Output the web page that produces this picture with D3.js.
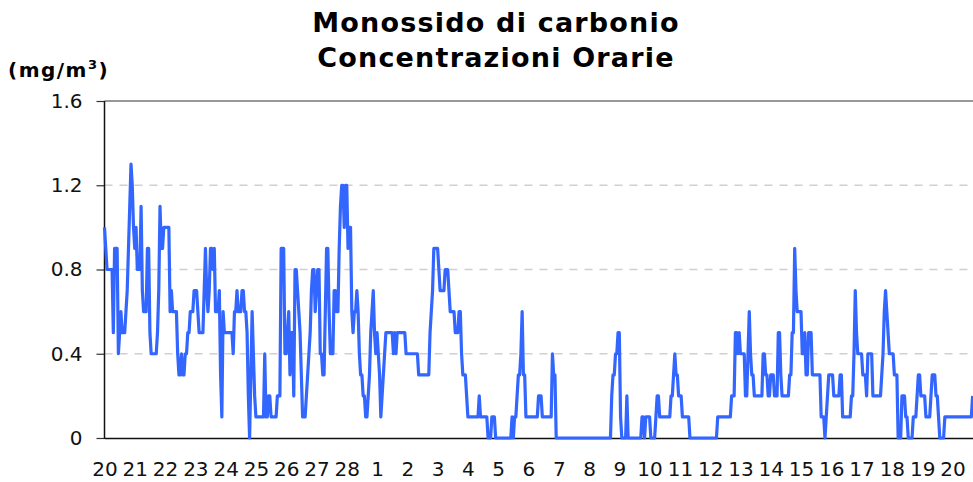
<!DOCTYPE html>
<html>
<head>
  <meta charset="utf-8">
  <title>Monossido di carbonio - Concentrazioni Orarie</title>
  <script src="https://cdn.jsdelivr.net/npm/d3@7"></script>
  <style>
    body { margin: 0; background: #fff; overflow: hidden; }
    text { font-family: "DejaVu Sans", Verdana, sans-serif; }
  </style>
</head>
<body>
<script>
  // Giorni (etichette asse x), uno ogni 24 ore
  const dayLabels = ["20", "21", "22", "23", "24", "25", "26", "27", "28",
    "1", "2", "3", "4", "5", "6", "7", "8", "9", "10", "11", "12", "13",
    "14", "15", "16", "17", "18", "19", "20"];

  const yTicks = [0, 0.4, 0.8, 1.2, 1.6];

  // Concentrazioni orarie CO (mg/m3), una riga per giorno
  const coValues = [
    1.0,0.9,0.8,0.8,0.8,0.8,0.8,0.5,0.9,0.9,0.9,0.4,0.5,0.6,0.5,0.5,0.5,0.6,0.7,0.9,1.1,1.3,1.2,1.0, // 20
    0.9,1.0,0.8,0.8,0.8,1.1,0.7,0.6,0.6,0.6,0.9,0.9,0.5,0.4,0.4,0.4,0.4,0.4,0.5,0.7,1.1,0.9,0.9,1.0, // 21
    1.0,1.0,1.0,1.0,0.6,0.7,0.6,0.6,0.6,0.6,0.4,0.3,0.3,0.4,0.3,0.3,0.4,0.4,0.5,0.5,0.6,0.6,0.6,0.7, // 22
    0.7,0.7,0.6,0.5,0.5,0.5,0.5,0.7,0.9,0.7,0.6,0.7,0.9,0.9,0.8,0.9,0.6,0.6,0.6,0.7,0.3,0.1,0.6,0.5, // 23
    0.5,0.5,0.5,0.5,0.5,0.5,0.4,0.6,0.6,0.7,0.6,0.6,0.6,0.7,0.7,0.6,0.6,0.5,0.2,0.0,0.3,0.6,0.4,0.2, // 24
    0.1,0.1,0.1,0.1,0.1,0.1,0.1,0.4,0.1,0.1,0.2,0.2,0.1,0.1,0.1,0.1,0.1,0.2,0.2,0.2,0.9,0.9,0.9,0.4, // 25
    0.4,0.5,0.6,0.3,0.5,0.5,0.2,0.8,0.8,0.7,0.6,0.5,0.3,0.1,0.1,0.1,0.2,0.3,0.4,0.5,0.7,0.8,0.8,0.6, // 26
    0.7,0.8,0.8,0.4,0.4,0.3,0.3,0.6,0.9,0.9,0.6,0.4,0.4,0.4,0.7,0.7,0.6,0.6,0.9,1.1,1.2,1.2,1.0,1.2, // 27
    1.2,0.9,1.0,1.0,0.6,0.5,0.6,0.6,0.7,0.6,0.4,0.3,0.3,0.2,0.2,0.1,0.1,0.2,0.3,0.5,0.6,0.7,0.5,0.4, // 28
    0.5,0.4,0.3,0.1,0.2,0.3,0.4,0.5,0.5,0.5,0.5,0.5,0.5,0.4,0.5,0.4,0.5,0.5,0.5,0.5,0.5,0.5,0.5,0.4, // 1
    0.4,0.4,0.4,0.4,0.4,0.4,0.4,0.4,0.4,0.3,0.3,0.3,0.3,0.3,0.3,0.3,0.3,0.3,0.5,0.6,0.7,0.9,0.9,0.9, // 2
    0.9,0.8,0.7,0.7,0.7,0.7,0.8,0.8,0.8,0.7,0.6,0.6,0.6,0.6,0.5,0.5,0.5,0.6,0.6,0.4,0.3,0.3,0.3,0.2, // 3
    0.1,0.1,0.1,0.1,0.1,0.1,0.1,0.1,0.1,0.2,0.1,0.1,0.1,0.1,0.1,0.1,0.0,0.0,0.0,0.1,0.1,0.1,0.0,0.0, // 4
    0.0,0.0,0.0,0.0,0.0,0.0,0.0,0.0,0.0,0.0,0.0,0.1,0.0,0.1,0.1,0.2,0.3,0.3,0.4,0.6,0.3,0.3,0.1,0.1, // 5
    0.1,0.1,0.1,0.1,0.1,0.1,0.1,0.1,0.2,0.2,0.2,0.1,0.1,0.1,0.1,0.1,0.1,0.1,0.1,0.4,0.3,0.3,0.0,0.0, // 6
    0.0,0.0,0.0,0.0,0.0,0.0,0.0,0.0,0.0,0.0,0.0,0.0,0.0,0.0,0.0,0.0,0.0,0.0,0.0,0.0,0.0,0.0,0.0,0.0, // 7
    0.0,0.0,0.0,0.0,0.0,0.0,0.0,0.0,0.0,0.0,0.0,0.0,0.0,0.0,0.0,0.0,0.0,0.0,0.2,0.3,0.3,0.4,0.4,0.5, // 8
    0.5,0.1,0.0,0.0,0.0,0.0,0.2,0.0,0.0,0.0,0.0,0.0,0.0,0.0,0.0,0.0,0.0,0.0,0.1,0.1,0.0,0.1,0.1,0.1, // 9
    0.1,0.0,0.0,0.0,0.0,0.1,0.2,0.2,0.1,0.1,0.1,0.1,0.1,0.1,0.1,0.1,0.1,0.2,0.2,0.3,0.4,0.3,0.3,0.2, // 10
    0.2,0.2,0.1,0.1,0.1,0.1,0.1,0.1,0.0,0.0,0.0,0.0,0.0,0.0,0.0,0.0,0.0,0.0,0.0,0.0,0.0,0.0,0.0,0.0, // 11
    0.0,0.0,0.0,0.0,0.0,0.0,0.1,0.1,0.1,0.1,0.1,0.1,0.1,0.1,0.1,0.1,0.1,0.2,0.2,0.2,0.5,0.5,0.4,0.5, // 12
    0.4,0.4,0.4,0.4,0.2,0.2,0.4,0.6,0.4,0.3,0.3,0.2,0.2,0.2,0.2,0.2,0.2,0.2,0.4,0.4,0.3,0.3,0.2,0.2, // 13
    0.3,0.3,0.3,0.2,0.2,0.2,0.5,0.5,0.3,0.2,0.2,0.2,0.2,0.2,0.2,0.3,0.3,0.5,0.5,0.9,0.7,0.6,0.6,0.6, // 14
    0.6,0.4,0.4,0.5,0.3,0.3,0.5,0.5,0.5,0.3,0.3,0.3,0.3,0.3,0.3,0.3,0.1,0.1,0.1,0.0,0.1,0.2,0.3,0.3, // 15
    0.3,0.3,0.2,0.2,0.2,0.2,0.2,0.3,0.3,0.1,0.1,0.1,0.1,0.1,0.1,0.1,0.2,0.2,0.4,0.7,0.5,0.4,0.4,0.4, // 16
    0.4,0.3,0.3,0.3,0.2,0.4,0.4,0.4,0.4,0.2,0.2,0.2,0.2,0.2,0.2,0.2,0.3,0.4,0.6,0.7,0.6,0.5,0.4,0.4, // 17
    0.4,0.4,0.3,0.3,0.3,0.0,0.0,0.0,0.2,0.2,0.2,0.1,0.1,0.0,0.0,0.0,0.0,0.1,0.1,0.1,0.2,0.3,0.3,0.2, // 18
    0.2,0.2,0.2,0.1,0.1,0.1,0.1,0.2,0.3,0.3,0.3,0.2,0.2,0.1,0.0,0.0,0.0,0.0,0.1,0.1,0.1,0.1,0.1,0.1, // 19
    0.1,0.1,0.1,0.1,0.1,0.1,0.1,0.1,0.1,0.1,0.1,0.1,0.1,0.1,0.1,0.1,0.2                              // 20
  ];

  const width = 973, height = 482;
  const margin = { top: 101, left: 104.5, bottom: 44 };
  const plotRight = 982.7; // il grafico continua oltre il bordo della finestra

  const svg = d3.select("body").append("svg")
    .attr("width", width)
    .attr("height", height);

  // Scale: una unità = un'ora
  const x = d3.scaleLinear()
    .domain([0, dayLabels.length * 24])
    .range([margin.left, plotRight]);

  const y = d3.scaleLinear()
    .domain([0, 1.6])
    .range([height - margin.bottom, margin.top]);

  // Griglia orizzontale tratteggiata
  svg.append("g")
    .selectAll("line")
    .data(yTicks.filter(d => d > 0 && d < 1.6))
    .enter()
    .append("line")
    .attr("x1", margin.left)
    .attr("x2", plotRight)
    .attr("y1", d => y(d))
    .attr("y2", d => y(d))
    .attr("stroke", "#d0d0d0")
    .attr("stroke-width", 1.5)
    .attr("stroke-dasharray", "8,7");

  // Bordo superiore
  svg.append("line")
    .attr("x1", margin.left)
    .attr("x2", plotRight)
    .attr("y1", y(1.6))
    .attr("y2", y(1.6))
    .attr("stroke", "#999")
    .attr("stroke-width", 2);

  // Asse y
  const yAxis = svg.append("g")
    .attr("transform", "translate(" + margin.left + ",0)")
    .call(d3.axisLeft(y)
      .tickValues(yTicks)
      .tickSize(8)
      .tickPadding(14)
      .tickFormat(d => d === 0 ? "0" : d3.format(".1f")(d)));
  yAxis.select(".domain").remove();
  yAxis.selectAll(".tick line").attr("stroke", "#333").attr("stroke-width", 1.2);
  yAxis.selectAll("text")
    .attr("font-size", 20)
    .attr("fill", "#111")
    .style("font-family", "'DejaVu Sans', Verdana, sans-serif");

  svg.append("line")
    .attr("x1", margin.left).attr("x2", margin.left)
    .attr("y1", y(1.6)).attr("y2", y(0) + 1)
    .attr("stroke", "#111").attr("stroke-width", 1.5);

  // Asse x (etichette dei giorni, senza tacche)
  const xAxis = svg.append("g")
    .attr("transform", "translate(0," + y(0) + ")")
    .call(d3.axisBottom(x)
      .tickValues(dayLabels.map((d, i) => i * 24))
      .tickSize(0)
      .tickPadding(24)
      .tickFormat((d, i) => dayLabels[i]));
  xAxis.select(".domain").attr("stroke", "#111").attr("stroke-width", 1.5);
  xAxis.selectAll("text")
    .attr("font-size", 20)
    .attr("fill", "#111")
    .style("font-family", "'DejaVu Sans', Verdana, sans-serif");

  // Linea dei dati
  const line = d3.line()
    .x((d, i) => x(i))
    .y(d => y(d));

  svg.append("path")
    .datum(coValues)
    .attr("d", line)
    .attr("fill", "none")
    .attr("stroke", "#3366ff")
    .attr("stroke-width", 3.2)
    .attr("stroke-linejoin", "round");

  // Titolo
  const title = svg.append("text")
    .attr("text-anchor", "middle")
    .attr("font-size", 27)
    .attr("font-weight", "bold")
    .attr("letter-spacing", 1.2)
    .attr("fill", "#000");
  title.append("tspan").attr("x", 496).attr("y", 32).text("Monossido di carbonio");
  title.append("tspan").attr("x", 496).attr("y", 67).text("Concentrazioni Orarie");

  // Unità di misura
  const unit = svg.append("text")
    .attr("x", 8)
    .attr("y", 77)
    .attr("font-size", 20)
    .attr("font-weight", "bold")
    .attr("letter-spacing", 1.5)
    .attr("fill", "#000");
  unit.append("tspan").text("(mg/m");
  unit.append("tspan").attr("font-size", 13).attr("dy", -8).text("3");
  unit.append("tspan").attr("dy", 8).text(")");
</script>
</body>
</html>
